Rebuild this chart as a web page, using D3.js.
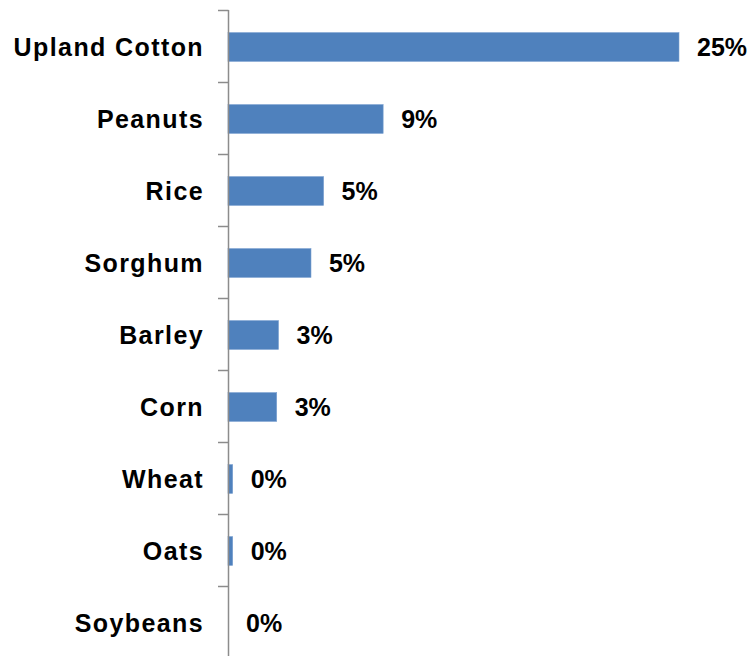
<!DOCTYPE html>
<html>
<head>
<meta charset="utf-8">
<script src="https://cdn.jsdelivr.net/npm/d3@7"></script>
<style>
  body { margin: 0; background: #fff; }
  text { font-family: Arial, "Liberation Sans", sans-serif; font-weight: bold; fill: #000; }
</style>
</head>
<body>
<script>
// data (share of crop, %)
const crops = ["Upland Cotton", "Peanuts", "Rice", "Sorghum", "Barley", "Corn", "Wheat", "Oats", "Soybeans"];
const shares = [25.0, 8.6, 5.3, 4.6, 2.8, 2.7, 0.26, 0.26, 0];
const shareLabels = ["25%", "9%", "5%", "5%", "3%", "3%", "0%", "0%", "0%"];

const W = 751, H = 656;
const margin = { top: 10, left: 228 };

const data = crops.map((c, i) => ({ crop: c, value: shares[i], label: shareLabels[i] }));

const svg = d3.select("body").append("svg")
  .attr("width", W)
  .attr("height", H);

const x = d3.scaleLinear().domain([0, 25]).range([0, 451]);

// band scale for bars
const y = d3.scaleBand()
  .domain(crops)
  .range([0, 648])
  .paddingInner(0.6)
  .paddingOuter(0.3);

// band scale without padding, for the tick marks between categories
const yEdge = d3.scaleBand().domain(crops).range([0, 648]);

const g = svg.append("g")
  .attr("transform", "translate(" + margin.left + "," + margin.top + ")");

g.selectAll("rect.bar")
  .data(data)
  .enter().append("rect")
  .attr("class", "bar")
  .attr("x", x(0))
  .attr("y", d => y(d.crop) + 1)
  .attr("width", d => x(d.value))
  .attr("height", y.bandwidth())
  .attr("fill", "#4f81bd")
  .attr("stroke", d => d.value > 0 ? "#7aa0d0" : "none")
  .attr("stroke-width", 0.6);

// axis line + ticks
g.append("line")
  .attr("x1", 0.5).attr("x2", 0.5)
  .attr("y1", 0).attr("y2", yEdge.range()[1])
  .attr("stroke", "#8c8c8c")
  .attr("stroke-width", 1.5);

const edges = crops.map(c => yEdge(c)).concat([yEdge.range()[1]]);
g.selectAll("line.tick")
  .data(edges)
  .enter().append("line")
  .attr("class", "tick")
  .attr("x1", -10).attr("x2", 0.5)
  .attr("y1", d => d + 0.5).attr("y2", d => d + 0.5)
  .attr("stroke", "#8c8c8c")
  .attr("stroke-width", 1.5);

// category labels
g.selectAll("text.cat")
  .data(data)
  .enter().append("text")
  .attr("class", "cat")
  .attr("x", -24)
  .attr("y", d => y(d.crop) + y.bandwidth() / 2 + 1)
  .attr("dy", "0.36em")
  .attr("text-anchor", "end")
  .style("font-size", "25px")
  .style("letter-spacing", "1.4px")
  .text(d => d.crop);

// value labels
g.selectAll("text.val")
  .data(data)
  .enter().append("text")
  .attr("class", "val")
  .attr("x", d => x(d.value) + 18)
  .attr("y", d => y(d.crop) + y.bandwidth() / 2 + 1)
  .attr("dy", "0.36em")
  .style("font-size", "25px")
  .text(d => d.label);
</script>
</body>
</html>
